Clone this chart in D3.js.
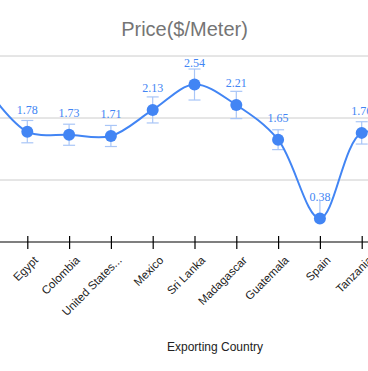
<!DOCTYPE html>
<html><head><meta charset="utf-8">
<script src="https://cdn.jsdelivr.net/npm/d3@7"></script>
<style>body{margin:0;background:#fff}svg{display:block}</style>
</head><body><svg id="c" width="368" height="371"></svg>
<script>
// Off-screen neighbours (first/last, unnamed) keep the line running out of the visible window.
const categories = ["", "Egypt", "Colombia", "United States...", "Mexico", "Sri Lanka", "Madagascar", "Guatemala", "Spain", "Tanzania", " "];
const prices = [2.5, 1.78, 1.73, 1.71, 2.13, 2.54, 2.21, 1.65, 0.38, 1.76, 1.6];
const errLow = [0.2, 0.18, 0.17, 0.17, 0.21, 0.25, 0.22, 0.16, 0, 0.18, 0.18];
const errHigh = [0.2, 0.18, 0.17, 0.17, 0.21, 0.25, 0.22, 0.16, 0.28, 0.18, 0.18];
const gridValues = [1, 2, 3];
const titleText = "Price($/Meter)";
const xTitle = "Exporting Country";

const W = 368, H = 371;
const svg = d3.select("#c");
svg.append("rect").attr("width", W).attr("height", H).attr("fill", "#fff");

const x = d3.scalePoint().domain(categories).range([-14.5, 403.5]);
const y = d3.scaleLinear().domain([0, 3]).range([242, 56]);
const data = categories.map((c, i) => ({c, v: prices[i], lo: errLow[i], hi: errHigh[i], named: c.trim() !== ""}));

// gridlines
svg.append("g").selectAll("line").data(gridValues).join("line")
  .attr("x1", 0).attr("x2", W)
  .attr("y1", d => y(d)).attr("y2", d => y(d))
  .attr("stroke", "#cccccc").attr("stroke-width", 1);

// x axis
const ax = svg.append("g").attr("transform", `translate(0,${y(0)})`)
  .call(d3.axisBottom(x).tickSize(7).tickPadding(0));
ax.select(".domain").remove();
ax.append("line").attr("x1", 0).attr("x2", W).attr("stroke", "#000").attr("stroke-width", 1.2);
ax.selectAll(".tick line").attr("y1", -6).attr("y2", 7).attr("stroke", "#000").attr("stroke-width", 1.2);
ax.selectAll(".tick text")
  .attr("y", 0).attr("dy", 0)
  .attr("text-anchor", "end")
  .attr("transform", "translate(11,19) rotate(-45)")
  .attr("font-family", "Liberation Sans, Arial, sans-serif")
  .attr("font-size", 11.5).attr("fill", "#222");
ax.selectAll(".tick").filter(d => d.trim() === "").select("text").remove();

// error bars
const eb = svg.append("g").attr("stroke", "#a9c6f7").attr("stroke-width", 1.2);
data.forEach(d => {
  const cx = x(d.c);
  eb.append("line").attr("x1", cx).attr("x2", cx).attr("y1", y(d.v + d.hi)).attr("y2", y(d.v - d.lo));
  if (d.lo > 0) {
    eb.append("line").attr("x1", cx - 6).attr("x2", cx + 6).attr("y1", y(d.v + d.hi)).attr("y2", y(d.v + d.hi));
    eb.append("line").attr("x1", cx - 6).attr("x2", cx + 6).attr("y1", y(d.v - d.lo)).attr("y2", y(d.v - d.lo));
  }
});

// line
const line = d3.line().x(d => x(d.c)).y(d => y(d.v)).curve(d3.curveCatmullRom);
svg.append("path").datum(data).attr("d", line)
  .attr("fill", "none").attr("stroke", "#4285f4").attr("stroke-width", 2);

// points
svg.append("g").selectAll("circle").data(data).join("circle")
  .attr("cx", d => x(d.c)).attr("cy", d => y(d.v)).attr("r", 6)
  .attr("fill", "#4285f4");

// value labels
svg.append("g").selectAll("text").data(data.filter(d => d.named)).join("text")
  .attr("x", d => x(d.c)).attr("y", d => y(d.v) - 22).attr("dy", "0.35em")
  .attr("text-anchor", "middle")
  .attr("font-family", "Liberation Serif, Times New Roman, serif")
  .attr("font-size", 12).attr("fill", "#4285f4")
  .text(d => d.v.toFixed(2));

// titles
svg.append("text").attr("x", 184.5).attr("y", 36).attr("text-anchor", "middle")
  .attr("font-family", "Liberation Sans, Arial, sans-serif").attr("font-size", 20)
  .attr("fill", "#757575").text(titleText);
svg.append("text").attr("x", 215).attr("y", 351).attr("text-anchor", "middle")
  .attr("font-family", "Liberation Sans, Arial, sans-serif").attr("font-size", 12)
  .attr("fill", "#222").text(xTitle);
</script></body></html>
